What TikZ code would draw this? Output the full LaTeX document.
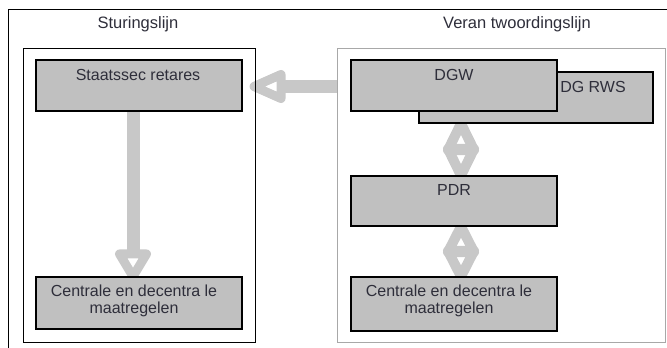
\documentclass[tikz,border=0pt]{standalone}
\usepackage{fontspec}
\setmainfont{Liberation Sans}
\usetikzlibrary{calc,backgrounds}
\definecolor{boxgray}{HTML}{C0C0C0}
\definecolor{arrowgray}{HTML}{C8C8C8}
\definecolor{framegray}{HTML}{A8A8A8}
\definecolor{txt}{HTML}{2E2E3A}
\begin{document}
\begin{tikzpicture}[x=1pt,y=-1pt,
  font=\fontsize{16}{17}\selectfont, text=txt,
  box/.style={draw=black, fill=boxgray, line width=1.1pt, minimum width=206pt, minimum height=51pt, inner sep=0pt},
  panel/.style={line width=1pt, minimum height=294pt, inner sep=0pt},
  lbl/.style={inner sep=0pt, align=center},
  ttl/.style={inner sep=0pt, font=\fontsize{16.5}{18}\selectfont},
  shaft/.style={draw=arrowgray, line width=13pt, line cap=butt},
  headsty/.style={draw=arrowgray, fill=none, line join=round},
  pics/ahead/.style n args={4}{code={\draw[headsty, line width=#4] (-#1,0) -- (-#2,#3) -- (-#2,-#3) -- cycle;}}
]
\useasboundingbox (0,0) rectangle (667,348);
\coordinate (fa) at (8,348);
\coordinate (fb) at (8,9);
\coordinate (fc) at (667,9);
\draw[line width=1pt] (fa) -- (fb) -- (fc);

\node[ttl] (t1) at (138,24) {Sturingslijn};
\node[ttl] (t2) at (517,24) {Veran twoordingslijn};

\node[panel, draw=black, minimum width=232pt] (lp) at (139,195) {};
\node[panel, draw=framegray, minimum width=328pt] (rp) at (501.5,195) {};

\node[box] (staats) at (139,85.5) {};
\node[lbl] (staatsT) at (138,75) {Staatssec retares};
\node[box, minimum height=52pt] (cen1) at (139,303) {};
\node[lbl] (cen1T) at (134,300.5) {Centrale en decentra le\\maatregelen};

\node[box, minimum width=234pt] (dgrws) at (536,97.5) {};
\node[lbl] (dgrwsT) at (593,87) {DG RWS};
\node[box] (dgw) at (454,85.5) {};
\node[lbl] (dgwT) at (454,75) {DGW};
\node[box, minimum height=50pt] (pdr) at (454,201) {};
\node[lbl] (pdrT) at (454,190) {PDR};
\node[box, minimum height=54pt] (cen2) at (454,304) {};
\node[lbl] (cen2T) at (449,300.5) {Centrale en decentra le\\maatregelen};

\begin{scope}[on background layer]
% horizontal connector
\coordinate (hs) at (rp.west |- 0,86.5);
\coordinate (ht) at (lp.east |- 0,86.5);
\draw[shaft] (hs) -- ([xshift=25.5pt]ht);
\pic[rotate=180] at (ht) {ahead={-1.5}{25.5}{12}{9pt}};

% down connector
\coordinate (d0) at ([xshift=-6pt]staats.south);
\coordinate (d1) at ([xshift=-6pt]cen1.north);
\draw[shaft] (d0) -- ($(d1)+(0,-22.5)$);
\pic[rotate=-90] at (d1) {ahead={0}{22.5}{13.5}{9pt}};

% double connectors
\coordinate (u0) at ([xshift=7pt]dgw.south |- dgrws.south);
\coordinate (u1) at ([xshift=7pt]pdr.north);
\pic[rotate=90] at (u0) {ahead={0}{26.5}{13}{10pt}};
\pic[rotate=-90] at (u1) {ahead={0}{26.5}{13}{10pt}};

\coordinate (v0) at ([xshift=7pt]pdr.south);
\coordinate (v1) at ([xshift=7pt]cen2.north);
\pic[rotate=90] at (v0) {ahead={0}{25.5}{13}{10pt}};
\pic[rotate=-90] at (v1) {ahead={0}{25.5}{13}{10pt}};
\end{scope}
\end{tikzpicture}
\end{document}
